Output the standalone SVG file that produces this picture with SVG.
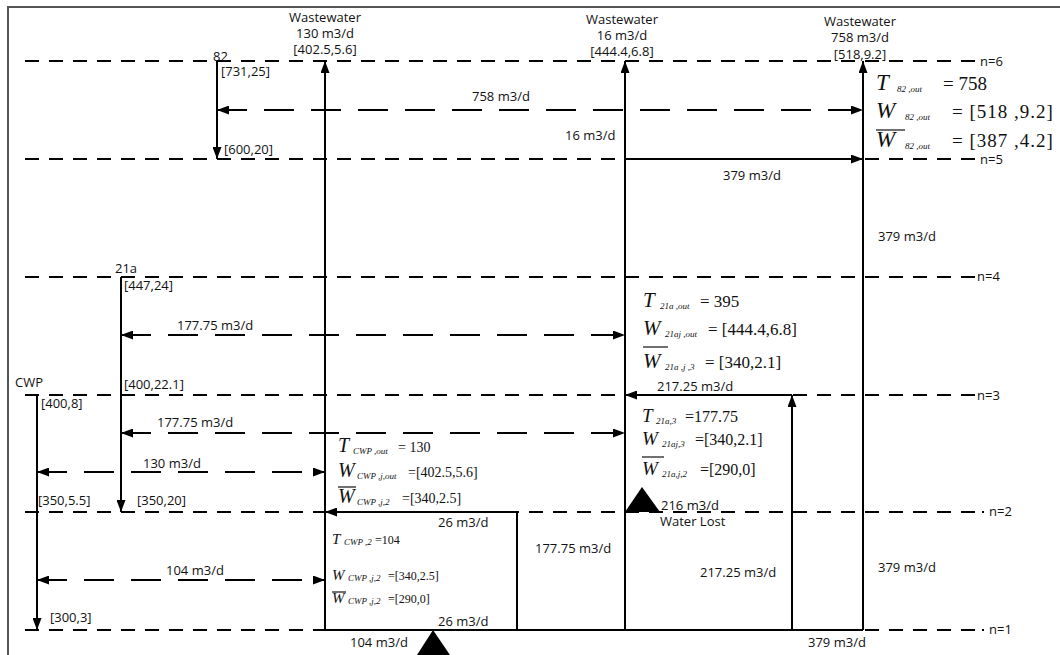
<svg xmlns="http://www.w3.org/2000/svg" width="1060" height="655" viewBox="0 0 1060 655">
<defs>
<marker id="ah" viewBox="0 0 12 9" refX="12" refY="4.5" markerWidth="12" markerHeight="9" markerUnits="userSpaceOnUse" orient="auto-start-reverse">
<path d="M0,0 L12,4.5 L0,9 z" fill="#000"/>
</marker>
<style>
.lvl{stroke:#000;stroke-width:2;stroke-dasharray:14 10;fill:none}
.flow{stroke:#000;stroke-width:2;stroke-dasharray:30 17;fill:none;marker-start:url(#ah);marker-end:url(#ah)}
.sol{stroke:#000;stroke-width:2;fill:none}
.arr{stroke:#000;stroke-width:2;fill:none;marker-end:url(#ah)}
.t{font-family:"Open Sans","Noto Sans",sans-serif;font-size:13px;fill:#111}
.tc{font-family:"Open Sans","Noto Sans",sans-serif;font-size:13px;fill:#111;text-anchor:middle}
.mv{font-family:"Liberation Serif",serif;font-style:italic;fill:#111}
.ms{font-family:"Liberation Serif",serif;font-style:italic;fill:#111;font-size:9px}
.mn{font-family:"Liberation Serif",serif;fill:#111}
.ov{stroke:#111;stroke-width:1.2}
</style>
</defs>
<rect x="8" y="7" width="1070" height="670" fill="#fff" stroke="#555" stroke-width="2"/>

<g id="levels">
<line class="lvl" x1="25" y1="61" x2="976" y2="61"/>
<line class="lvl" x1="25" y1="159" x2="976" y2="159"/>
<line class="lvl" x1="25" y1="277" x2="976" y2="277"/>
<line class="lvl" x1="25" y1="395" x2="976" y2="395"/>
<line class="lvl" x1="25" y1="512" x2="976" y2="512"/>
<line class="lvl" x1="25" y1="630" x2="976" y2="630"/>
<line class="sol" x1="982" y1="512" x2="984" y2="512"/>
<line class="sol" x1="982" y1="630" x2="984" y2="630"/>
<text class="t" x="980" y="66">n=6</text>
<text class="t" x="980" y="164">n=5</text>
<text class="t" x="977" y="281">n=4</text>
<text class="t" x="977" y="400">n=3</text>
<text class="t" x="989" y="516">n=2</text>
<text class="t" x="989" y="634">n=1</text>
</g>

<g id="connectors">
<line class="arr" x1="217" y1="61" x2="217" y2="159"/>
<line class="arr" x1="325" y1="630" x2="325" y2="61"/>
<line class="arr" x1="625" y1="630" x2="625" y2="61"/>
<line class="arr" x1="863" y1="630" x2="863" y2="61"/>
<line class="arr" x1="121" y1="277" x2="121" y2="512"/>
<line class="arr" x1="37" y1="395" x2="37" y2="630"/>
<line class="arr" x1="792" y1="630" x2="792" y2="395"/>
<line class="sol" x1="517" y1="512" x2="517" y2="630"/>
<line class="arr" x1="625" y1="159" x2="863" y2="159"/>
<line class="arr" x1="792" y1="395" x2="625" y2="395"/>
<line class="arr" x1="517" y1="512" x2="325" y2="512"/>
<line class="sol" x1="325" y1="630" x2="863" y2="630"/>
<line class="flow" x1="217" y1="110" x2="863" y2="110"/>
<line class="flow" x1="121" y1="335" x2="625" y2="335"/>
<line class="flow" x1="121" y1="433" x2="625" y2="433"/>
<line class="flow" x1="37" y1="472" x2="325" y2="472"/>
<line class="flow" x1="37" y1="580" x2="325" y2="580"/>
<polygon points="433,630 417,655 450,655" fill="#000"/>
<polygon points="642,487 625,512 660,512" fill="#000"/>
</g>

<g id="flow-labels">
<text class="t" x="472" y="101">758 m3/d</text>
<text class="t" x="565" y="140">16 m3/d</text>
<text class="t" x="723" y="180">379 m3/d</text>
<text class="t" x="878" y="241">379 m3/d</text>
<text class="t" x="177" y="330">177.75 m3/d</text>
<text class="t" x="657" y="391">217.25 m3/d</text>
<text class="t" x="157" y="427">177.75 m3/d</text>
<text class="t" x="143" y="468">130 m3/d</text>
<text class="t" x="661" y="510">216 m3/d</text>
<text class="t" x="660" y="526">Water Lost</text>
<text class="t" x="438" y="527">26 m3/d</text>
<text class="t" x="535" y="553">177.75 m3/d</text>
<text class="t" x="166" y="575">104 m3/d</text>
<text class="t" x="700" y="577">217.25 m3/d</text>
<text class="t" x="878" y="572">379 m3/d</text>
<text class="t" x="438" y="626">26 m3/d</text>
<text class="t" x="350" y="647">104 m3/d</text>
<text class="t" x="808" y="647">379 m3/d</text>
</g>

<g id="ww130">
<text class="tc" x="325" y="22">Wastewater</text>
<text class="tc" x="325" y="38">130 m3/d</text>
<text class="tc" x="325" y="54">[402.5,5.6]</text>
</g>
<g id="ww16">
<text class="tc" x="622" y="24">Wastewater</text>
<text class="tc" x="622" y="40">16 m3/d</text>
<text class="tc" x="622" y="56">[444.4,6.8]</text>
</g>
<g id="ww758">
<text class="tc" x="860" y="26">Wastewater</text>
<text class="tc" x="860" y="42">758 m3/d</text>
<text class="tc" x="860" y="59">[518,9.2]</text>
</g>

<g id="s82">
<text class="t" x="213" y="61">82</text>
<text class="t" x="221" y="76">[731,25]</text>
<text class="t" x="224" y="154">[600,20]</text>
</g>
<g id="s21a">
<text class="t" x="115" y="273">21a</text>
<text class="t" x="124" y="290">[447,24]</text>
<text class="t" x="124" y="389">[400,22.1]</text>
<text class="t" x="137" y="505">[350,20]</text>
</g>
<g id="cwp">
<text class="t" x="15" y="387">CWP</text>
<text class="t" x="41" y="408">[400,8]</text>
<text class="t" x="38" y="505">[350,5.5]</text>
<text class="t" x="50" y="622">[300,3]</text>
</g>

<g id="eq82">
<text class="mv" x="876" y="90" font-size="23">T</text>
<text class="ms" x="897" y="92">82 ,out</text>
<text class="mn" x="943" y="90" font-size="19">= 758</text>
<text class="mv" x="876" y="118" font-size="23">W</text>
<text class="ms" x="905" y="120">82 ,out</text>
<text class="mn" x="952" y="118" font-size="19" letter-spacing="1">= [518 ,9.2]</text>
<line class="ov" x1="876" y1="130" x2="905" y2="130"/>
<text class="mv" x="876" y="147" font-size="23">W</text>
<text class="ms" x="905" y="149">82 ,out</text>
<text class="mn" x="952" y="147" font-size="19" letter-spacing="1">= [387 ,4.2]</text>
</g>

<g id="eq21a-out">
<text class="mv" x="643" y="307" font-size="21">T</text>
<text class="ms" x="660" y="309">21a ,out</text>
<text class="mn" x="700" y="307" font-size="17">= 395</text>
<text class="mv" x="643" y="335" font-size="21">W</text>
<text class="ms" x="665" y="337">21aj ,out</text>
<text class="mn" x="708" y="335" font-size="17">= [444.4,6.8]</text>
<line class="ov" x1="643" y1="347" x2="668" y2="347"/>
<text class="mv" x="643" y="368" font-size="21">W</text>
<text class="ms" x="665" y="370">21a ,j ,3</text>
<text class="mn" x="705" y="368" font-size="17">= [340,2.1]</text>
</g>

<g id="eq21a-3">
<text class="mv" x="642" y="422" font-size="19">T</text>
<text class="ms" x="656" y="424">21a,3</text>
<text class="mn" x="685" y="422" font-size="16">=177.75</text>
<text class="mv" x="642" y="445" font-size="19">W</text>
<text class="ms" x="662" y="447">21aj,3</text>
<text class="mn" x="695" y="445" font-size="16">=[340,2.1]</text>
<line class="ov" x1="642" y1="457" x2="664" y2="457"/>
<text class="mv" x="642" y="475" font-size="19">W</text>
<text class="ms" x="662" y="477">21a,j,2</text>
<text class="mn" x="700" y="475" font-size="16">=[290,0]</text>
</g>

<g id="eqcwp-out">
<text class="mv" x="338" y="452" font-size="20">T</text>
<text class="ms" x="353" y="454" font-size="8">CWP ,out</text>
<text class="mn" x="398" y="452" font-size="14">= 130</text>
<text class="mv" x="338" y="477" font-size="20">W</text>
<text class="ms" x="357" y="479" font-size="8">CWP ,j,out</text>
<text class="mn" x="408" y="477" font-size="14">=[402.5,5.6]</text>
<line class="ov" x1="338" y1="487" x2="356" y2="487"/>
<text class="mv" x="338" y="503" font-size="20">W</text>
<text class="ms" x="357" y="505" font-size="8">CWP ,j,2</text>
<text class="mn" x="402" y="503" font-size="14">=[340,2.5]</text>
</g>

<g id="eqcwp-2">
<text class="mv" x="332" y="544" font-size="15">T</text>
<text class="ms" x="344" y="545" font-size="7">CWP ,2</text>
<text class="mn" x="375" y="544" font-size="12">=104</text>
<text class="mv" x="332" y="580" font-size="15">W</text>
<text class="ms" x="348" y="581" font-size="7">CWP ,j,2</text>
<text class="mn" x="388" y="580" font-size="12">=[340,2.5]</text>
<line class="ov" x1="332" y1="592" x2="346" y2="592"/>
<text class="mv" x="332" y="603" font-size="15">W</text>
<text class="ms" x="348" y="604" font-size="7">CWP ,j,2</text>
<text class="mn" x="388" y="603" font-size="12">=[290,0]</text>
</g>
</svg>
